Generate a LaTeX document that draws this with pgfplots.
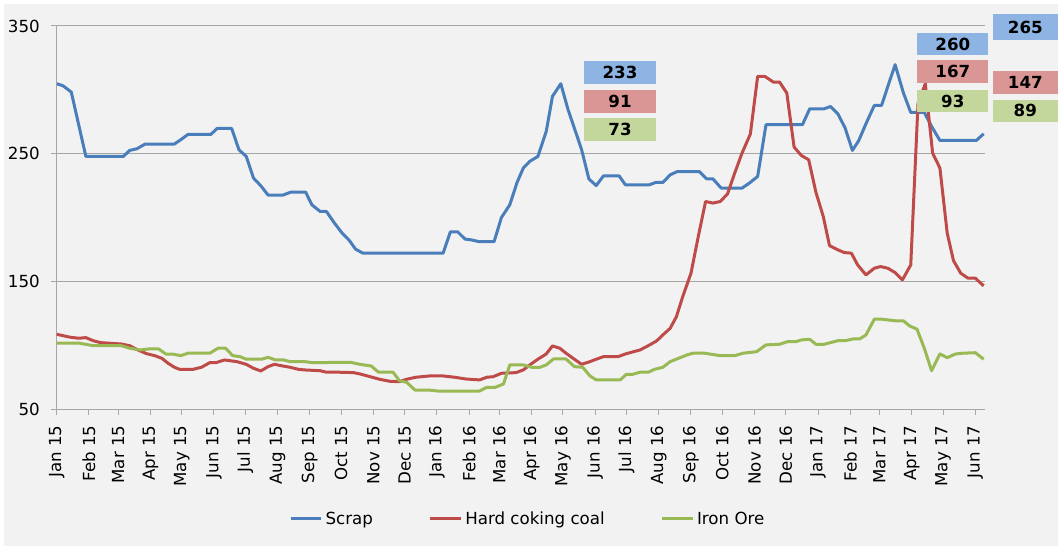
\documentclass[border=0pt]{standalone}
\usepackage{fontspec}
\setmainfont{DejaVu Sans}
\usepackage{pgfplots}
\pgfplotsset{compat=1.18}
\usepackage{pgfplotstable}
\definecolor{scrap}{HTML}{4A7EBB}
\definecolor{coal}{HTML}{BE4B48}
\definecolor{ore}{HTML}{98B954}
\definecolor{bgc}{HTML}{F2F2F2}
\definecolor{gridc}{HTML}{A6A6A6}
\definecolor{lblue}{HTML}{8EB4E3}
\definecolor{lred}{HTML}{D99694}
\definecolor{lgreen}{HTML}{C3D69B}

% day = days since 1 Jan 2015
\pgfplotstableread{
d v
0 304.8
6 303.2
14 298.3
28 247.9
64 247.9
70 252.6
77 253.9
85 257.6
113 257.6
119 260.9
126 265.1
148 265.1
154 269.8
168 269.8
175 253.1
182 247.9
189 230.9
196 224.9
203 217.6
217 217.6
225 220.0
239 220.0
245 210.0
253 204.8
259 204.8
266 196.5
274 187.9
281 182.1
287 175.3
294 172.2
371 172.2
378 188.9
385 188.9
392 183.2
398 182.6
405 181.3
420 181.3
427 200.1
435 210.0
442 227.5
448 238.8
454 243.9
462 247.9
470 267.4
476 294.9
484 304.8
491 284.4
497 270.1
504 253.1
511 230.2
518 225.1
525 232.7
540 232.7
546 225.7
569 225.7
575 227.5
582 227.5
589 233.5
596 236.1
617 236.1
624 230.4
630 230.4
638 223.1
658 223.1
665 227.0
673 232.2
681 272.7
716 272.7
723 285.2
737 285.2
743 287.0
750 281.3
757 270.1
764 252.6
770 260.2
777 273.5
785 287.8
792 287.8
798 302.7
805 319.7
813 297.5
820 282.3
833 282.3
840 271.4
848 260.4
883 260.4
890 265.6
}\scrapdata

\pgfplotstableread{
d v
0 108.7
13 106.4
21 105.6
28 106.1
35 103.7
42 102.2
62 101.1
70 99.8
78 96.4
86 93.6
94 92.0
101 89.9
107 86.0
113 82.9
118 81.3
131 81.3
139 82.9
147 86.5
153 86.5
161 88.6
173 87.3
182 85.2
189 82.1
196 80.0
203 83.4
209 85.2
217 83.9
224 82.9
232 81.3
238 80.8
253 80.2
259 79.0
272 79.0
285 78.7
291 77.7
301 75.5
310 73.5
320 71.9
329 71.6
336 73.5
345 75.1
358 76.1
371 76.1
382 75.1
393 73.7
406 73.0
413 75.1
419 75.5
427 78.2
441 78.7
448 80.8
455 85.2
462 89.2
470 93.3
476 99.6
483 97.8
489 93.9
497 89.2
504 85.2
512 87.3
518 89.2
525 91.2
539 91.2
546 93.3
553 94.9
560 96.4
568 99.8
576 103.5
582 108.2
589 113.4
595 122.5
601 138.0
609 156.5
616 185.2
623 212.6
630 211.4
637 212.6
644 218.4
651 234.9
658 250.5
666 265.4
673 310.5
680 310.5
688 306.1
694 306.1
701 297.5
708 255.2
715 248.6
722 245.3
729 219.7
736 200.9
742 178.1
750 174.8
756 172.7
763 172.2
769 163.0
777 155.2
785 160.4
791 161.7
798 160.4
805 157.0
812 151.3
820 163.0
827 289.7
834 304.8
841 250.5
848 238.8
855 187.9
861 166.4
868 156.5
875 152.6
882 152.6
890 146.6
}\coaldata

\pgfplotstableread{
d v
0 101.7
22 101.7
35 99.8
62 99.8
70 97.8
80 96.4
88 97.2
98 97.2
105 93.1
112 93.1
119 92.0
126 93.9
147 93.9
155 97.8
162 97.8
169 92.0
176 91.2
182 89.2
197 89.2
203 90.7
210 88.6
218 88.6
224 87.3
238 87.3
246 86.5
282 86.8
291 85.2
302 83.9
309 79.0
323 79.0
329 72.4
336 71.1
344 65.1
357 65.1
366 64.3
406 64.3
413 67.2
421 67.2
429 69.8
435 84.7
448 84.7
456 82.9
464 82.9
470 84.7
477 89.4
489 89.4
497 83.4
505 82.9
512 76.1
518 73.0
541 73.0
547 77.4
553 77.4
560 79.0
568 79.0
574 81.3
582 82.9
589 87.3
597 89.9
605 92.5
611 93.9
622 93.9
637 92.0
651 92.0
659 93.9
672 95.1
681 100.4
694 100.9
702 103.0
710 103.0
715 104.3
723 104.8
729 100.9
737 100.9
750 103.7
757 103.7
765 105.1
771 105.1
777 108.2
785 120.5
792 120.5
806 119.2
813 119.2
819 115.2
826 112.7
833 97.8
840 80.2
848 93.3
855 90.4
863 93.3
870 93.9
882 94.3
890 89.2
}\oredata

\begin{document}
\begin{tikzpicture}[x=0.75pt,y=0.75pt]
\useasboundingbox (0,0) rectangle (1058,550);
\fill[white] (0,0) rectangle (1058,550);
\fill[bgc] (4,4) rectangle (1058,546);
\begin{axis}[
  at={(42.525pt,105.525pt)}, anchor=south west,
  width=696pt, height=287.5pt, scale only axis,
  xmin=0, xmax=891, ymin=50, ymax=350,
  axis x line*=bottom, axis y line*=left,
  axis line style={-, draw=gridc, line width=0.75pt},
  every outer x axis line/.append style={-},
  every outer y axis line/.append style={-},
  tick style={draw=gridc, line width=0.75pt},
  tick align=outside, major tick length=4.2pt,
  ytick={50,150,250,350},
  ymajorgrids, grid style={draw=gridc, line width=0.75pt},
  xtick={0,31,59,90,120,151,181,212,243,273,304,334,365,396,425,456,486,517,547,578,609,639,670,700,731,762,790,821,851,882},
  xticklabels={Jan 15,Feb 15,Mar 15,Apr 15,May 15,Jun 15,Jul 15,Aug 15,Sep 15,Oct 15,Nov 15,Dec 15,Jan 16,Feb 16,Mar 16,Apr 16,May 16,Jun 16,Jul 16,Aug 16,Sep 16,Oct 16,Nov 16,Dec 16,Jan 17,Feb 17,Mar 17,Apr 17,May 17,Jun 17},
  xticklabel style={yshift=-4.5pt, rotate=90, anchor=east, font=\fontsize{12.5}{15}\selectfont},
  yticklabel style={xshift=-5pt, font=\fontsize{12.5}{15}\selectfont},
  /pgf/number format/assume math mode=true,
  legend style={at={(0.508,-0.286)}, anchor=center, draw=none, fill=none,
    font=\fontsize{12.5}{15}\selectfont,
    /tikz/every even column/.append style={column sep=40pt}},
  legend columns=3,
  legend image code/.code={\draw[#1] (0pt,0pt) -- (23pt,0pt);},
  every axis plot/.append style={line width=2.25pt, line join=round},
]
\addplot[scrap] table[x=d,y=v] {\scrapdata};
\addlegendentry{Scrap}
\addplot[coal] table[x=d,y=v] {\coaldata};
\addlegendentry{Hard coking coal}
\addplot[ore] table[x=d,y=v] {\oredata};
\addlegendentry{Iron Ore}
\end{axis}
\tikzset{lbl/.style={inner sep=0pt, minimum width=54pt, minimum height=17.25pt, text=black, font=\fontsize{12.5}{14}\selectfont\bfseries}}
\node[lbl, fill=lblue] at (620,477.5) {233};
\node[lbl, fill=lred] at (620,448.5) {91};
\node[lbl, fill=lgreen] at (620,420.5) {73};
\node[lbl, fill=lblue, minimum width=53.3pt, minimum height=16.8pt] at (952.8,505.8) {260};
\node[lbl, fill=lred, minimum width=53.3pt, minimum height=16.8pt] at (952.8,478.5) {167};
\node[lbl, fill=lgreen, minimum width=53.3pt, minimum height=16.8pt] at (952.8,448.7) {93};
\node[lbl, fill=lblue, minimum width=49pt, minimum height=20pt] at (1025.3,523) {265};
\node[lbl, fill=lred, minimum width=49pt, minimum height=17pt] at (1025.3,467.7) {147};
\node[lbl, fill=lgreen, minimum width=49pt, minimum height=16.5pt] at (1025.3,439.3) {89};
\end{tikzpicture}
\end{document}
